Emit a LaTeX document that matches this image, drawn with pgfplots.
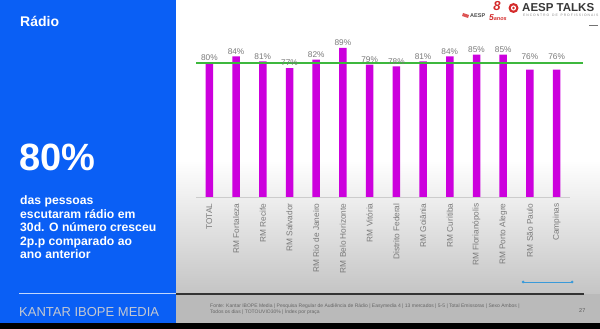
\documentclass[border=0pt]{standalone}
\usepackage{fontspec}
\setmainfont{Liberation Sans}
\usepackage{pgfplots}
\pgfplotsset{compat=1.18}
\definecolor{kblue}{HTML}{0A5FF5}
\definecolor{kmag}{HTML}{CC00DD}
\definecolor{kgreen}{HTML}{3DB83D}
\definecolor{lblgray}{HTML}{7A7A7A}
\definecolor{kantargray}{HTML}{C3C8D2}
\definecolor{aespred}{HTML}{D42A2A}
\definecolor{dotblue}{HTML}{3A9AD9}
\begin{document}
\begin{tikzpicture}[x=1pt,y=1pt]
% backgrounds
\fill[white] (0,0) rectangle (600,329);
\shade[top color=white,bottom color=black!23] (176,35) rectangle (600,169);
\fill[black!27] (176,6) rectangle (600,35);
\fill[black] (0,0) rectangle (600,6);
\fill[kblue] (0,6) rectangle (176,329);
\draw[line width=1.8pt, black!80] (176,35) -- (584,35);
\draw[line width=0.9pt, white!75!kblue] (19,36) -- (176,36);
% left panel text
\node[anchor=base west, inner sep=0, text=white, font=\bfseries\fontsize{14}{16}\selectfont] at (20,302) {Rádio};
\node[anchor=base west, inner sep=0, text=white, font=\bfseries\fontsize{38}{40}\selectfont] at (19,158) {80\%};
\begin{scope}[every node/.style={anchor=base west, inner sep=0, text=white, font=\bfseries\fontsize{12.2}{13}\selectfont}]
\node at (20,124) {das pessoas};
\node at (20,110.5) {escutaram rádio em};
\node at (20,97) {30d. O número cresceu};
\node at (20,83.5) {2p.p comparado ao};
\node at (20,70) {ano anterior};
\end{scope}
\node[anchor=base west, inner sep=0, text=kantargray, font=\fontsize{13}{14}\selectfont] at (19,12) {KANTAR IBOPE MEDIA};
% logo
\node[anchor=base west, inner sep=0, text=black!78, font=\bfseries\fontsize{11.5}{12}\selectfont] at (522,317.5) {AESP TALKS};
\node[anchor=base west, inner sep=0, text=black!45, font=\fontsize{3.4}{4}\selectfont] at (523,312.5) {E N C O N T R O \ \ D E \ \ P R O F I S S I O N A I S};
\fill[aespred] (513.5,321) circle (5);
\fill[white] (513.5,321) circle (2.6);
\fill[aespred] (513.5,321) circle (1.4);
\node[anchor=base, inner sep=0, text=aespred, font=\bfseries\itshape\fontsize{13}{13}\selectfont] at (497,318.5) {8};
\node[anchor=base west, inner sep=0, text=aespred, font=\bfseries\itshape\fontsize{8.5}{9}\selectfont] at (489,308) {5\fontsize{5.5}{6}\selectfont anos};
\node[anchor=base west, inner sep=0, text=black!70, font=\bfseries\fontsize{5.5}{6}\selectfont] at (470,311) {AESP};
\fill[aespred!80] (463,316) -- (469,314) -- (468,311) -- (462,313) -- cycle;
\draw[black!55, line width=0.9pt] (589,304) -- (598,304);
% bottom blue marker line
\draw[dotblue, line width=0.8pt] (523,47) -- (572,47);
\fill[dotblue] (523,47) circle (1.5);
\fill[dotblue] (572,47) circle (1.5);
% footer
\node[anchor=base west, inner sep=0, text=black!60, font=\fontsize{5}{5}\selectfont] at (210,21) {Fonte: Kantar IBOPE Media | Pesquisa Regular de Audiência de Rádio | Easymedia 4 | 13 mercados | 5-5 | Total Emissoras | Sexo Ambos |};
\node[anchor=base west, inner sep=0, text=black!60, font=\fontsize{5}{5}\selectfont] at (210,15) {Todos os dias | TOTOUVIO30\% | Índex por praça};
\node[anchor=base west, inner sep=0, text=black!65, font=\fontsize{5.5}{6}\selectfont] at (579,16) {27};
% chart
\begin{axis}[
  at={(196pt,132pt)}, anchor=south west,
  scale only axis, width=374pt, height=167.5pt,
  xmin=-0.5, xmax=13.5, ymin=0, ymax=100,
  axis y line=none, axis x line*=bottom,
  x axis line style={black!20, line width=0.6pt},
  xtick={0,...,13},
  xticklabels={TOTAL, RM Fortaleza, RM Recife, RM Salvador, RM Rio de Janeiro, RM Belo Horizonte, RM Vitória, Distrito Federal, RM Goiânia, RM Curitiba, RM Florianópolis, RM Porto Alegre, RM São Paulo, Campinas},
  x tick label style={rotate=90, anchor=east, font=\fontsize{8.3}{9}\selectfont, text=lblgray, xshift=-3pt},
  major tick length=0pt,
  clip=false,
  /pgf/number format/assume math mode=true,
]
\addplot[ybar, bar width=7.5pt, bar shift=0pt, fill=kmag, draw=none,
  nodes near coords={\pgfmathprintnumber{\pgfplotspointmeta}\%},
  every node near coord/.append style={font=\fontsize{8.3}{9}\selectfont, text=lblgray, inner sep=2pt}]
  coordinates {(0,80) (1,84) (2,81) (3,77) (4,82) (5,89) (6,79) (7,78) (8,81) (9,84) (10,85) (11,85)};
\addplot[ybar, bar width=7.5pt, bar shift=0pt, fill=kmag, draw=none,
  nodes near coords={\pgfmathprintnumber{\pgfplotspointmeta}\%},
  every node near coord/.append style={font=\fontsize{8.3}{9}\selectfont, text=lblgray, inner sep=2pt, yshift=8pt}]
  coordinates {(12,76) (13,76)};
\addplot[kgreen, line width=1.2pt, mark=none] coordinates {(-0.5,80) (13.97,80)};
\end{axis}
\end{tikzpicture}
\end{document}
